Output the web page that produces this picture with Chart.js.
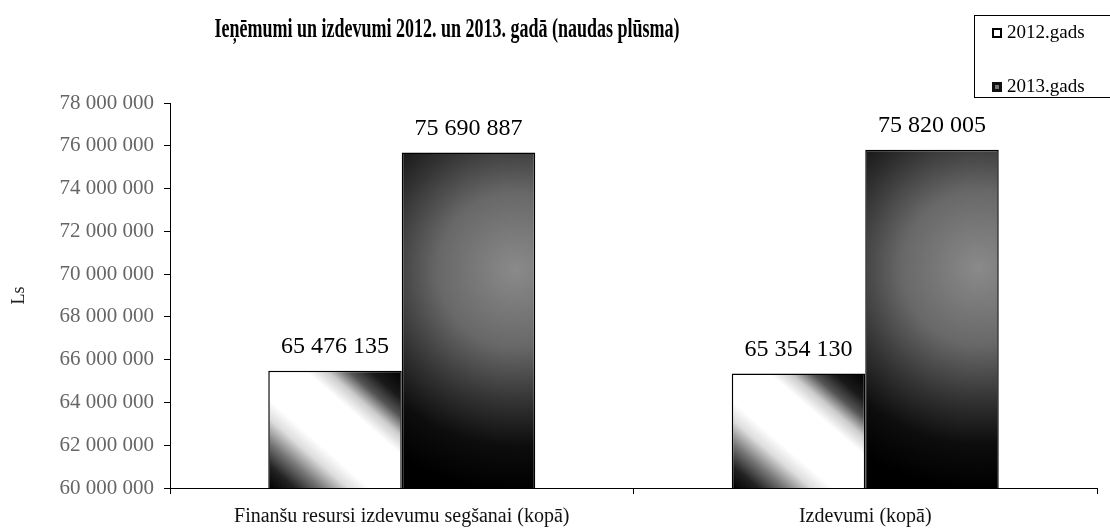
<!DOCTYPE html>
<html>
<head>
<meta charset="utf-8">
<script src="https://cdn.jsdelivr.net/npm/chart.js@4/dist/chart.umd.min.js"></script>
<style>
  html, body { margin: 0; padding: 0; background: #fff; }
  #wrap { width: 1110px; height: 528px; }
</style>
</head>
<body>
<div id="wrap"><canvas id="myChart" width="1110" height="528"></canvas></div>
<script>
const chartTitle = "Ieņēmumi un izdevumi 2012. un 2013. gadā (naudas plūsma)";
const categories = ["Finanšu resursi izdevumu segšanai (kopā)", "Izdevumi (kopā)"];
const seriesNames = ["2012.gads", "2013.gads"];
const values2012 = [65476135, 65354130];
const values2013 = [75690887, 75820005];
const yMin = 60000000;
const yMax = 78000000;
const yStep = 2000000;
const yTitle = "Ls";

const serif = '"Liberation Serif", "Times New Roman", serif';
const catPct = 0.576;

function fmt(n) {
  return String(n).replace(/\B(?=(\d{3})+(?!\d))/g, " ");
}

// bar box from the scales (elements are not placed yet when options resolve)
function barBox(chart, dsIndex, i, value) {
  const xs = chart.scales.x, ys = chart.scales.y;
  if (!xs || !ys) return null;
  const center = xs.getPixelForValue(i);
  const catW = (xs.right - xs.left) / categories.length;
  const groupW = catW * catPct;
  const barW = groupW / 2;
  const l = center - groupW / 2 + dsIndex * barW;
  const box = { l: l, r: l + barW, t: ys.getPixelForValue(value), b: ys.getPixelForValue(yMin) };
  for (const k in box) if (!isFinite(box[k])) return null;
  if (box.r - box.l < 1 || box.b - box.t < 1) return null;
  return box;
}

// white bar, dark bottom-left and top-right corners
function fill2012(c) {
  const chart = c.chart;
  const box = barBox(chart, c.datasetIndex, c.dataIndex, values2012[c.dataIndex]);
  if (!box) return "#ffffff";
  const w = box.r - box.l, h = box.b - box.t;
  const vx = 1 / (2 * w), vy = -1 / (2 * h);
  const n = vx * vx + vy * vy;
  const g = chart.ctx.createLinearGradient(box.l, box.b, box.l + vx / n, box.b + vy / n);
  g.addColorStop(0, "#000000");
  g.addColorStop(0.1, "#222222");
  g.addColorStop(0.2, "#777777");
  g.addColorStop(0.3, "#dddddd");
  g.addColorStop(0.38, "#ffffff");
  g.addColorStop(0.64, "#ffffff");
  g.addColorStop(0.72, "#cccccc");
  g.addColorStop(0.8, "#555555");
  g.addColorStop(0.88, "#1a1a1a");
  g.addColorStop(1, "#000000");
  return g;
}

// dark bar, grey glow on the upper right
function fill2013(c) {
  const chart = c.chart;
  const box = barBox(chart, c.datasetIndex, c.dataIndex, values2013[c.dataIndex]);
  if (!box) return "#222222";
  const w = box.r - box.l, h = box.b - box.t;
  const cx = box.l + 0.85 * w, cy = box.t + 0.35 * h;
  const g = chart.ctx.createRadialGradient(cx, cy, 0, cx, cy, 220);
  g.addColorStop(0, "#8a8a8a");
  g.addColorStop(0.35, "#686868");
  g.addColorStop(0.6, "#333333");
  g.addColorStop(0.8, "#0d0d0d");
  g.addColorStop(1, "#000000");
  return g;
}

const decorations = {
  id: "decorations",
  afterDatasetsDraw(chart) {
    const ctx = chart.ctx;
    ctx.save();
    // value labels above bars
    ctx.font = "24px " + serif;
    ctx.fillStyle = "#000";
    ctx.textAlign = "center";
    ctx.textBaseline = "middle";
    chart.data.datasets.forEach((ds, di) => {
      chart.getDatasetMeta(di).data.forEach((el, i) => {
        ctx.fillText(fmt(ds.data[i]), el.x, el.y - 24);
      });
    });
    ctx.restore();
  },
  afterDraw(chart) {
    const ctx = chart.ctx;
    ctx.save();
    // title, squeezed like the original
    ctx.font = "bold 28px " + serif;
    ctx.fillStyle = "#000";
    ctx.textBaseline = "middle";
    const tw = ctx.measureText(chartTitle).width;
    const sx = 465 / tw;
    ctx.translate(447, 30);
    ctx.scale(sx, 1);
    ctx.textAlign = "center";
    ctx.fillText(chartTitle, 0, 0);
    ctx.restore();

    // legend box
    ctx.save();
    ctx.strokeStyle = "#000";
    ctx.lineWidth = 1;
    ctx.strokeRect(974.5, 15.5, 150, 82);
    ctx.font = "19px " + serif;
    ctx.textBaseline = "middle";
    ctx.textAlign = "left";
    const rows = [33, 87];
    seriesNames.forEach((name, i) => {
      const y = rows[i];
      if (i === 0) {
        ctx.fillStyle = "#fff";
        ctx.fillRect(992, y - 5, 10, 10);
        ctx.lineWidth = 2;
        ctx.strokeRect(993, y - 4, 8, 8);
      } else {
        ctx.fillStyle = "#111";
        ctx.fillRect(992, y - 5, 10, 10);
        ctx.fillStyle = "#777";
        ctx.fillRect(995, y - 2, 4, 4);
      }
      ctx.fillStyle = "#000";
      ctx.fillText(name, 1007, y);
    });
    ctx.restore();
  }
};

const ctx = document.getElementById("myChart");

const chart = new Chart(ctx, {
  type: "bar",
  data: {
    labels: categories,
    datasets: [
      {
        label: seriesNames[0],
        data: values2012,
        backgroundColor: fill2012,
        borderColor: "#000",
        borderWidth: 1.5,
        categoryPercentage: catPct,
        barPercentage: 1.0,
      },
      {
        label: seriesNames[1],
        data: values2013,
        backgroundColor: fill2013,
        borderColor: "#000",
        borderWidth: 1.5,
        categoryPercentage: catPct,
        barPercentage: 1.0,
      },
    ],
  },
  options: {
    responsive: false,
    animation: false,
    layout: { padding: { top: 103, right: 13, left: 0, bottom: 0 } },
    scales: {
      x: {
        afterFit: (s) => { s.height = 40; },
        grid: { display: true, drawOnChartArea: false, drawTicks: true, tickLength: 6, color: "#000", offset: true },
        border: { display: true, color: "#000", width: 1 },
        ticks: { color: "#111", font: { family: serif, size: 20 }, padding: 11, maxRotation: 0, autoSkip: false },
      },
      y: {
        min: yMin,
        max: yMax,
        afterFit: (s) => { s.width = 170; },
        grid: { display: true, drawOnChartArea: false, drawTicks: true, tickLength: 6, color: "#000" },
        border: { display: true, color: "#000", width: 1 },
        ticks: {
          stepSize: yStep,
          color: "#666",
          font: { family: serif, size: 21 },
          padding: 10,
          callback: (v) => fmt(v),
        },
        title: { display: true, text: yTitle, color: "#222", font: { family: serif, size: 18 }, padding: 8 },
      },
    },
    plugins: {
      legend: { display: false },
      title: { display: false },
      tooltip: { enabled: false },
    },
  },
  plugins: [decorations],
});
</script>
</body>
</html>
